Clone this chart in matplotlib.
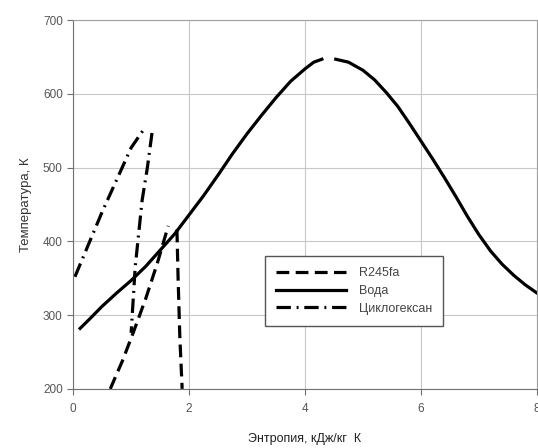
import matplotlib
matplotlib.use('Agg')
import matplotlib.pyplot as plt

plt.rcParams['font.family'] = ['Liberation Sans', 'DejaVu Sans']

# Вода (liquid and vapour branches, gap near the critical point)
water_liq_s = [0.12, 0.3, 0.5, 0.75, 1.0, 1.25, 1.5, 1.75, 2.0, 2.25, 2.5,
               2.75, 3.0, 3.25, 3.5, 3.75, 4.0, 4.15, 4.29]
water_liq_t = [282, 296, 312, 330, 347, 366, 388, 410, 436, 462, 490,
               519, 546, 571, 595, 617, 634, 643, 647]
water_vap_s = [4.53, 4.75, 5.0, 5.2, 5.4, 5.6, 5.8, 6.0, 6.2, 6.4, 6.6,
               6.8, 7.0, 7.2, 7.4, 7.6, 7.8, 8.0]
water_vap_t = [647, 643, 632, 619, 602, 583, 560, 536, 512, 487, 461,
               434, 409, 387, 369, 354, 341, 330]

# R245fa
r245_liq_s = [0.64, 0.85, 1.03, 1.25, 1.45, 1.64]
r245_liq_t = [200, 238, 275, 322, 370, 421]
r245_vap_s = [1.79, 1.81, 1.84, 1.88]
r245_vap_t = [416, 350, 270, 200]

# Циклогексан
cyc_liq_s = [0.03, 0.5, 1.0, 1.21]
cyc_liq_t = [352, 440, 527, 551]
cyc_vap_s = [1.36, 1.28, 1.19, 1.07, 1.0]
cyc_vap_t = [547, 500, 456, 365, 276]

fig = plt.figure(figsize=(5.38, 4.48), dpi=100)
ax = fig.add_axes([0.136, 0.132, 0.862, 0.823])

lw = 2.3
dash = (0, (4, 2))
dashdot = (0, (4.5, 1.8, 0.6, 1.8))

ax.plot(r245_liq_s, r245_liq_t, color='black', lw=lw, linestyle=dash, label='R245fa')
ax.plot(r245_vap_s, r245_vap_t, color='black', lw=lw, linestyle=dash)
ax.plot(water_liq_s, water_liq_t, color='black', lw=lw, label='Вода')
ax.plot(water_vap_s, water_vap_t, color='black', lw=lw)
ax.plot(cyc_liq_s, cyc_liq_t, color='black', lw=lw, linestyle=dashdot, label='Циклогексан')
ax.plot(cyc_vap_s, cyc_vap_t, color='black', lw=lw, linestyle=dashdot)

ax.set_xlim(0, 8)
ax.set_ylim(200, 700)
ax.set_xticks([0, 2, 4, 6, 8])
ax.set_yticks([200, 300, 400, 500, 600, 700])
ax.grid(True, color='#c8c8c8', lw=0.8)
ax.set_axisbelow(True)
for s in ['left', 'bottom']:
    ax.spines[s].set_color('#707070')
for s in ['top', 'right']:
    ax.spines[s].set_color('#a0a0a0')
ax.tick_params(colors='#707070', labelcolor='#555555', labelsize=8.5, length=4)
ax.tick_params(axis='x', pad=6)

ax.set_xlabel('Энтропия, кДж/кг  К', fontsize=9, color='#222222', labelpad=13)
ax.set_ylabel('Температура, К', fontsize=9.5, color='#333333', labelpad=8)

leg = ax.legend(loc='upper left', bbox_to_anchor=(0.40, 0.377), fontsize=9,
                handlelength=5.6, fancybox=False, framealpha=1,
                edgecolor='#555555', borderpad=0.9, labelspacing=0.45,
                handletextpad=1.0)
for t in leg.get_texts():
    t.set_color('#444444')

fig.savefig('out.png', dpi=100)
